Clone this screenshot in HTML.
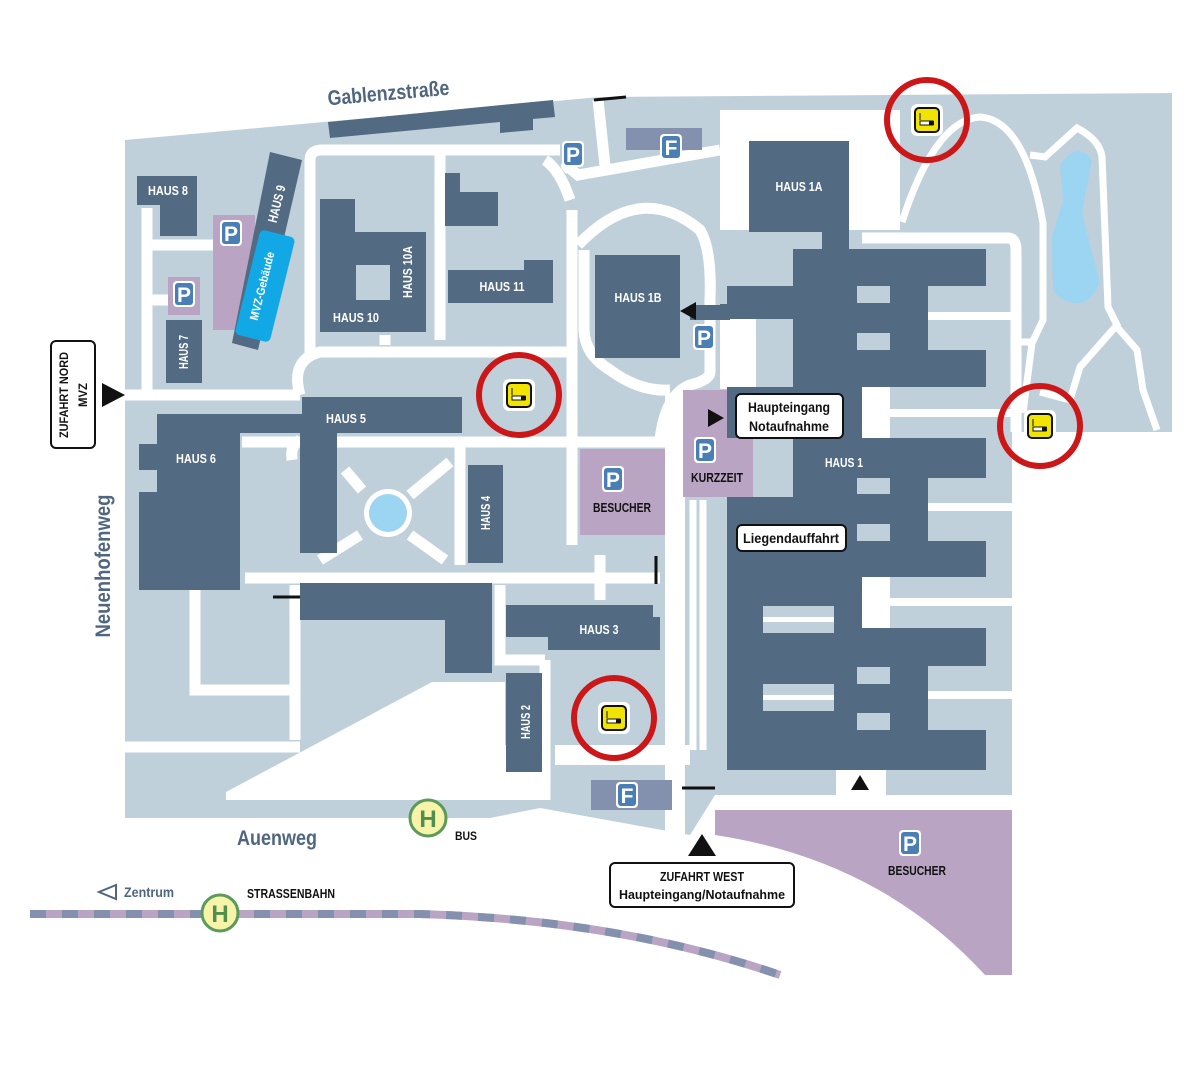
<!DOCTYPE html>
<html><head><meta charset="utf-8"><style>
html,body{margin:0;padding:0;background:#fff}
svg{display:block}
text{font-family:"Liberation Sans Narrow","Liberation Sans",sans-serif;font-weight:bold}
.w{fill:#fff;font-size:13px}
.k{fill:#111;font-size:13px}
.st{fill:#4f6680;font-size:21px}
.r{stroke:#fff;fill:none;stroke-linecap:butt}
</style></head><body>
<svg width="1204" height="1072" viewBox="0 0 1204 1072" xmlns="http://www.w3.org/2000/svg">
<defs>
<g id="P"><rect x="-11" y="-13" width="22" height="26" rx="4" fill="#fff"/><rect x="-9" y="-11" width="18" height="22" rx="3" fill="#4a7fb5"/><text x="0" y="8" text-anchor="middle" style="font-size:21px;fill:#fff;font-family:'Liberation Sans',sans-serif;font-weight:bold">P</text></g>
<g id="F"><rect x="-11" y="-13" width="22" height="26" rx="4" fill="#fff"/><rect x="-9" y="-11" width="18" height="22" rx="3" fill="#4a7fb5"/><text x="0" y="8" text-anchor="middle" style="font-size:21px;fill:#fff;font-family:'Liberation Sans',sans-serif;font-weight:bold">F</text></g>
<g id="S"><rect x="-16" y="-16" width="32" height="32" rx="6" fill="#fff"/><rect x="-12" y="-12" width="24" height="24" rx="4" fill="#f0e400" stroke="#111" stroke-width="2"/><rect x="-7" y="1" width="13" height="4" fill="#fff" stroke="#111" stroke-width="1"/><rect x="2" y="1" width="5" height="4" fill="#111"/><path d="M-7 0 v-7" stroke="#111" stroke-width="1"/></g>
<g id="SM"><circle r="40" fill="none" stroke="#cc1719" stroke-width="6"/><use href="#S"/></g>
<g id="H"><circle r="18" fill="#f7f3a8" stroke="#5a9a5a" stroke-width="3"/><text x="0" y="9" text-anchor="middle" style="font-size:24px;fill:#4e8e4e;font-family:'Liberation Sans',sans-serif;font-weight:bold">H</text></g>
</defs>

<!-- ground -->
<polygon points="125,140 600,97 1172,93 1172,432 1012,432 1012,795 715,795 690,835 540,808 490,818 125,818" fill="#bfd0db"/>
<!-- white areas -->
<polygon points="226,800 226,792 432,682 505,682 505,745 540,745 540,800" fill="#fff"/>
<rect x="720" y="110" width="180" height="120" fill="#fff"/>
<rect x="555" y="745" width="135" height="20" fill="#fff"/>
<rect x="665" y="395" width="20" height="440" fill="#fff"/>
<rect x="720" y="319" width="40" height="70" fill="#fff"/>
<rect x="836" y="770" width="50" height="25" fill="#fff"/>

<!-- roads -->
<g class="r" stroke-width="11">
<path d="M147 208 V398"/><path d="M150 245 H215"/><path d="M95 395 H300"/>
<path d="M150 300 H170"/>
<path d="M300 395 Q290 360 320 352 H568"/>
<path d="M310 355 V160 Q310 150 322 150 H560"/>
<path d="M570 170 Q560 160 578 175 L720 150"/>
<path d="M598 100 L606 175"/>
<path d="M570 200 Q560 170 545 160"/>
<path d="M572 210 V545"/>
<path d="M242 442 H690"/>
<path d="M300 440 Q290 445 292 460"/>
<path d="M245 578 H660"/>
<path d="M295 585 V740"/>
<path d="M195 580 V690 H300"/>
<path d="M125 747 H300"/>
<path d="M500 585 V660 H545"/>
<path d="M545 660 V800"/>
<path d="M440 148 V230 M440 230 V340 M385 335 V345"/>
<path d="M460 442 V565"/>
<path d="M600 555 V600"/>
<path d="M578 245 Q640 180 700 230 Q712 250 710 300 V372 Q710 380 690 385 Q665 395 660 440"/>
<path d="M584 250 V330 Q585 355 610 370 Q640 392 670 390"/>
<path d="M345 470 L362 490 M410 495 L450 462 M360 535 L320 560 M410 535 L445 560"/>
<path d="M862 238 H1008 Q1016 238 1016 250 V432"/>
</g>
<g class="r" stroke-width="8">
<path d="M928 316 H1012 M890 413 H1012 M928 507 H1012 M890 602 H1012 M928 695 H1012"/>
</g>
<g class="r" stroke-width="7">
<path d="M902 222 Q935 120 980 117 Q1025 120 1043 223 V320 L1032 343 L1023 413"/>
<path d="M1030 155 L1045 157 L1077 128 Q1100 140 1102 157 L1108 307 L1117 325 L1080 367 L1070 400 L1040 392"/>
<path d="M1117 327 L1137 350 L1143 390 L1157 430"/>
<path d="M1016 342 H1035"/>
<path d="M693 500 V750 M703 500 V750"/>
</g>
<path d="M1060 165 Q1077 140 1092 160 L1082 213 L1100 283 Q1090 305 1075 303 Q1055 300 1053 287 L1052 237 L1063 200 Z" fill="#9cd5f2"/>

<!-- purple / F areas -->
<rect x="213" y="215" width="42" height="115" fill="#b9a5c3"/>
<rect x="168" y="277" width="32" height="38" fill="#b9a5c3"/>
<rect x="580" y="449" width="85" height="86" fill="#b9a5c3"/>
<rect x="683" y="390" width="70" height="107" fill="#b9a5c3"/>
<path d="M715 810 H1012 V975 H985 Q880 860 715 835 Z" fill="#b9a5c3"/>
<rect x="626" y="128" width="76" height="22" fill="#8391ae"/>
<rect x="591" y="780" width="81" height="30" fill="#8391ae"/>

<!-- buildings -->
<g fill="#526a82">
<polygon points="328,122 553,100 555,117 533,119 533,130 500,133 500,122 330,138"/>
<polygon points="137,176 197,176 197,236 160,236 160,205 137,205"/>
<polygon points="270,152 302,160 258,350 232,343"/>
<rect x="166" y="320" width="36" height="63"/>
<path d="M320 199 H355 V232 H426 V332 H320 Z M356 265 V300 H390 V265 Z" fill-rule="evenodd"/>
<polygon points="445,173 460,173 460,192 498,192 498,226 445,226"/>
<polygon points="448,270 524,270 524,260 553,260 553,303 448,303"/>
<rect x="302" y="397" width="160" height="36"/>
<rect x="187" y="414" width="115" height="19"/>
<rect x="300" y="433" width="37" height="120"/>
<rect x="157" y="414" width="83" height="176"/>
<rect x="139" y="444" width="20" height="26"/>
<rect x="139" y="492" width="20" height="98"/>
<rect x="468" y="465" width="35" height="98"/>
<rect x="300" y="583" width="192" height="37"/>
<rect x="445" y="583" width="47" height="90"/>
<rect x="506" y="605" width="147" height="32"/>
<rect x="548" y="617" width="112" height="33"/>
<rect x="506" y="673" width="36" height="99"/>
<rect x="595" y="255" width="85" height="103"/>
<rect x="690" y="305" width="40" height="15"/>
<rect x="749" y="141" width="100" height="91"/>
<rect x="822" y="225" width="27" height="30"/>
<!-- Haus 1 -->
<rect x="793" y="249" width="193" height="37"/>
<rect x="727" y="286" width="66" height="33"/>
<rect x="720" y="304" width="10" height="15"/>
<rect x="793" y="249" width="135" height="138"/>
<rect x="928" y="350" width="58" height="37"/>
<rect x="727" y="387" width="135" height="51"/>
<rect x="793" y="438" width="193" height="40"/>
<rect x="727" y="497" width="201" height="80"/>
<rect x="793" y="478" width="135" height="20"/>
<rect x="928" y="541" width="58" height="36"/>
<rect x="727" y="577" width="135" height="51"/>
<rect x="727" y="628" width="259" height="38"/>
<rect x="727" y="666" width="201" height="104"/>
<rect x="928" y="730" width="58" height="40"/>
</g>
<g fill="#bfd0db">
<rect x="857" y="286" width="33" height="17"/><rect x="857" y="333" width="33" height="17"/>
<rect x="857" y="478" width="33" height="16"/><rect x="857" y="524" width="33" height="17"/>
<rect x="857" y="667" width="33" height="17"/><rect x="857" y="713" width="33" height="17"/>
<rect x="763" y="606" width="71" height="27"/><rect x="763" y="684" width="71" height="27"/>
<rect x="756" y="319" width="37" height="68"/>
<rect x="753" y="438" width="40" height="59"/>
</g>
<rect x="862" y="387" width="28" height="51" fill="#fff"/>
<rect x="862" y="577" width="28" height="51" fill="#fff"/>
<rect x="763" y="617" width="71" height="5" fill="#fff"/><rect x="763" y="695" width="71" height="5" fill="#fff"/>
<rect x="247" y="232" width="36" height="108" rx="5" fill="#12a8e6" transform="rotate(14 265 286)"/>
<circle cx="388" cy="513" r="24" fill="#fff"/><circle cx="388" cy="513" r="19" fill="#9cd5f2"/>

<!-- small barriers -->
<g stroke="#111" stroke-width="3"><path d="M594 100 L626 97"/><path d="M273 597 H300"/><path d="M656 556 V584"/><path d="M682 788 H715"/></g>

<!-- labels -->
<g lengthAdjust="spacingAndGlyphs">
<text class="w" x="168" y="195" text-anchor="middle" textLength="40" lengthAdjust="spacingAndGlyphs">HAUS 8</text>
<text class="w" transform="translate(281,205) rotate(-76)" text-anchor="middle" textLength="38" lengthAdjust="spacingAndGlyphs">HAUS 9</text>
<text class="w" transform="translate(266,287) rotate(-76)" text-anchor="middle" style="font-size:12px" textLength="70" lengthAdjust="spacingAndGlyphs">MVZ-Gebäude</text>
<text class="w" transform="translate(188,352) rotate(-90)" text-anchor="middle" textLength="34" lengthAdjust="spacingAndGlyphs">HAUS 7</text>
<text class="w" x="356" y="322" text-anchor="middle" textLength="46" lengthAdjust="spacingAndGlyphs">HAUS 10</text>
<text class="w" transform="translate(412,272) rotate(-90)" text-anchor="middle" textLength="52" lengthAdjust="spacingAndGlyphs">HAUS 10A</text>
<text class="w" x="502" y="291" text-anchor="middle" textLength="45" lengthAdjust="spacingAndGlyphs">HAUS 11</text>
<text class="w" x="638" y="302" text-anchor="middle" textLength="47" lengthAdjust="spacingAndGlyphs">HAUS 1B</text>
<text class="w" x="799" y="191" text-anchor="middle" textLength="47" lengthAdjust="spacingAndGlyphs">HAUS 1A</text>
<text class="w" x="346" y="423" text-anchor="middle" textLength="40" lengthAdjust="spacingAndGlyphs">HAUS 5</text>
<text class="w" x="196" y="463" text-anchor="middle" textLength="40" lengthAdjust="spacingAndGlyphs">HAUS 6</text>
<text class="w" transform="translate(490,513) rotate(-90)" text-anchor="middle" textLength="34" lengthAdjust="spacingAndGlyphs">HAUS 4</text>
<text class="w" x="599" y="634" text-anchor="middle" textLength="39" lengthAdjust="spacingAndGlyphs">HAUS 3</text>
<text class="w" transform="translate(530,722) rotate(-90)" text-anchor="middle" textLength="34" lengthAdjust="spacingAndGlyphs">HAUS 2</text>
<text class="w" x="844" y="467" text-anchor="middle" textLength="38" lengthAdjust="spacingAndGlyphs">HAUS 1</text>
<text class="k" x="622" y="512" text-anchor="middle" textLength="58" lengthAdjust="spacingAndGlyphs">BESUCHER</text>
<text class="k" x="717" y="482" text-anchor="middle" textLength="52" lengthAdjust="spacingAndGlyphs">KURZZEIT</text>
<text class="k" x="917" y="875" text-anchor="middle" textLength="58" lengthAdjust="spacingAndGlyphs">BESUCHER</text>
<text class="k" x="466" y="840" text-anchor="middle" style="font-size:12px" textLength="22" lengthAdjust="spacingAndGlyphs">BUS</text>
<text class="k" x="291" y="898" text-anchor="middle" textLength="88" lengthAdjust="spacingAndGlyphs">STRASSENBAHN</text>
<text class="st" transform="translate(389,100) rotate(-5)" text-anchor="middle" textLength="122" lengthAdjust="spacingAndGlyphs">Gablenzstraße</text>
<text class="st" x="277" y="845" text-anchor="middle" textLength="80" lengthAdjust="spacingAndGlyphs">Auenweg</text>
<text class="st" transform="translate(110,566) rotate(-90)" text-anchor="middle" textLength="143" lengthAdjust="spacingAndGlyphs">Neuenhofenweg</text>
<text x="149" y="897" text-anchor="middle" style="fill:#4f6680;font-size:14px" textLength="50" lengthAdjust="spacingAndGlyphs">Zentrum</text>
</g>
<path d="M116 885 L99 892 L116 899 Z" fill="none" stroke="#4f6680" stroke-width="2"/>

<use href="#P" x="573" y="154"/><use href="#F" x="671" y="147"/><use href="#P" x="231" y="233"/><use href="#P" x="184" y="294"/>
<use href="#P" x="704" y="337"/><use href="#P" x="705" y="450"/><use href="#P" x="613" y="479"/><use href="#P" x="910" y="843"/>
<use href="#F" x="627" y="795"/>
<use href="#SM" x="927" y="120"/><use href="#SM" x="519" y="395"/><use href="#SM" x="1040" y="426"/><use href="#SM" x="614" y="718"/>

<!-- tram -->
<path d="M30 914 H420 Q620 920 780 975" fill="none" stroke="#b9a5c3" stroke-width="8"/>
<path d="M30 914 H420 Q620 920 780 975" fill="none" stroke="#8391ae" stroke-width="8" stroke-dasharray="16 16"/>
<use href="#H" x="428" y="818"/><use href="#H" x="220" y="913"/>

<!-- callouts -->
<path d="M680 311 L696 302 L696 320 Z" fill="#111"/>
<path d="M708 409 L724 418 L708 427 Z" fill="#111"/>
<path d="M102 383 L125 395 L102 407 Z" fill="#111"/>
<path d="M688 856 L702 834 L716 856 Z" fill="#111"/>
<path d="M851 790 L860 775 L869 790 Z" fill="#111"/>
<rect x="51" y="341" width="44" height="107" rx="5" fill="#fff" stroke="#111" stroke-width="2"/>
<text transform="translate(68,395) rotate(-90)" text-anchor="middle" class="k" style="font-size:12px" textLength="86" lengthAdjust="spacingAndGlyphs">ZUFAHRT NORD</text>
<text transform="translate(87,395) rotate(-90)" text-anchor="middle" class="k" style="font-size:12px" textLength="24" lengthAdjust="spacingAndGlyphs">MVZ</text>
<rect x="736" y="394" width="107" height="44" rx="5" fill="#fff" stroke="#111" stroke-width="2"/>
<text x="789" y="412" text-anchor="middle" class="k" style="font-size:14px" textLength="82" lengthAdjust="spacingAndGlyphs">Haupteingang</text>
<text x="789" y="431" text-anchor="middle" class="k" style="font-size:14px" textLength="80" lengthAdjust="spacingAndGlyphs">Notaufnahme</text>
<rect x="737" y="525" width="109" height="26" rx="5" fill="#fff" stroke="#111" stroke-width="2"/>
<text x="791" y="543" text-anchor="middle" class="k" style="font-size:14px" textLength="96" lengthAdjust="spacingAndGlyphs">Liegendauffahrt</text>
<rect x="610" y="863" width="184" height="44" rx="5" fill="#fff" stroke="#111" stroke-width="2"/>
<text x="702" y="881" text-anchor="middle" class="k" textLength="84" lengthAdjust="spacingAndGlyphs">ZUFAHRT WEST</text>
<text x="702" y="899" text-anchor="middle" class="k" textLength="166" lengthAdjust="spacingAndGlyphs">Haupteingang/Notaufnahme</text>
</svg>
</body></html>
